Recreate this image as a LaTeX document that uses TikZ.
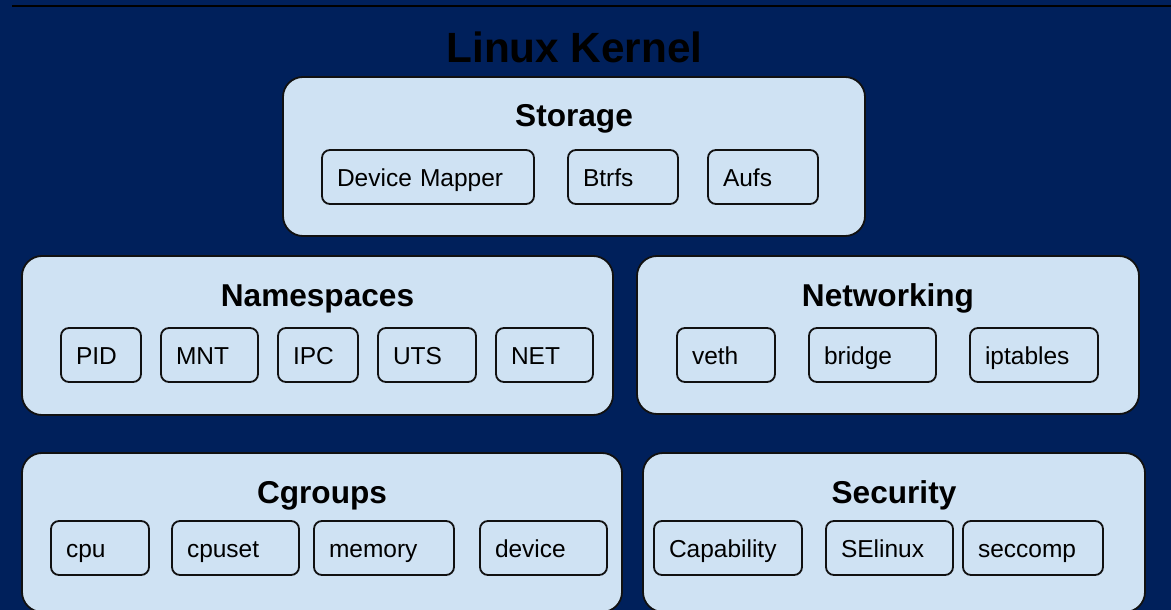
\documentclass[tikz,border=0pt]{standalone}
\usepackage{fontspec}
\setmainfont{Liberation Sans}
\definecolor{navy}{HTML}{00205B}
\definecolor{boxfill}{HTML}{CFE2F3}
\definecolor{edge}{HTML}{111111}
\tikzset{
  secbox/.style={draw=edge, line width=1.8pt, fill=boxfill, rounded corners=20pt,
    inner sep=0pt, outer sep=0pt, anchor=north west},
  itembox/.style={draw=edge, line width=1.8pt, fill=boxfill, rounded corners=8pt,
    inner xsep=15pt, inner ysep=0pt, outer sep=0pt, minimum height=54pt,
    anchor=north west, align=left, text height=21pt, text depth=3pt,
    font=\fontsize{24.5}{28}\selectfont},
  sectitle/.style={anchor=base, inner sep=0pt, font=\fontsize{31.6}{35}\selectfont\bfseries},
  maintitle/.style={anchor=base, inner sep=0pt, font=\fontsize{42.3}{48}\selectfont\bfseries},
}
\newcommand{\kitem}[5]{\node[itembox, text width=#4pt] (#1) at (#2,#3) {#5};}
\begin{document}
\begin{tikzpicture}[x=1pt, y=-1pt]
\useasboundingbox (0,0) rectangle (1171,610);
\clip (0,0) rectangle (1171,610);
\fill[navy] (0,0) rectangle (1171,610);
\coordinate (lineL) at (12,6);
\coordinate (lineR) at (1171,6);
\draw[line width=2.5pt, black] (lineL) -- (lineR);
\node[maintitle] (title) at (574.5,63) {Linux Kernel};

% Storage
\node[secbox, minimum width=582pt, minimum height=159pt] (storage) at (283,77) {};
\node[sectitle] (storaget) at ([yshift=-50pt]storage.north) {Storage};
\kitem{dm}{322}{150}{182}{Device Mapper}
\kitem{btrfs}{568}{150}{80}{Btrfs}
\kitem{aufs}{708}{150}{80}{Aufs}

% Namespaces
\node[secbox, minimum width=591pt, minimum height=159pt] (ns) at (22,256) {};
\node[sectitle] (nst) at ([yshift=-50pt]ns.north) {Namespaces};
\kitem{pid}{61}{328}{50}{PID}
\kitem{mnt}{161}{328}{67}{MNT}
\kitem{ipc}{278}{328}{50}{IPC}
\kitem{uts}{378}{328}{68}{UTS}
\kitem{net}{496}{328}{67}{NET}

% Networking
\node[secbox, minimum width=502pt, minimum height=158pt] (netw) at (637,256) {};
\node[sectitle] (netwt) at ([yshift=-50pt]netw.north) {Networking};
\kitem{veth}{677}{328}{68}{veth}
\kitem{bridge}{809}{328}{97}{bridge}
\kitem{iptables}{970}{328}{98}{iptables}

% Cgroups
\node[secbox, minimum width=600pt, minimum height=159pt] (cg) at (22,453) {};
\node[sectitle] (cgt) at ([yshift=-50pt]cg.north) {Cgroups};
\kitem{cpu}{51}{521}{68}{cpu}
\kitem{cpuset}{172}{521}{97}{cpuset}
\kitem{memory}{314}{521}{110}{memory}
\kitem{device}{480}{521}{97}{device}

% Security
\node[secbox, minimum width=502pt, minimum height=159pt] (sec) at (643,453) {};
\node[sectitle] (sect) at ([yshift=-50pt]sec.north) {Security};
\kitem{cap}{654}{521}{118}{Capability}
\kitem{selinux}{826}{521}{97}{SElinux}
\kitem{seccomp}{963}{521}{110}{seccomp}
\end{tikzpicture}
\end{document}
